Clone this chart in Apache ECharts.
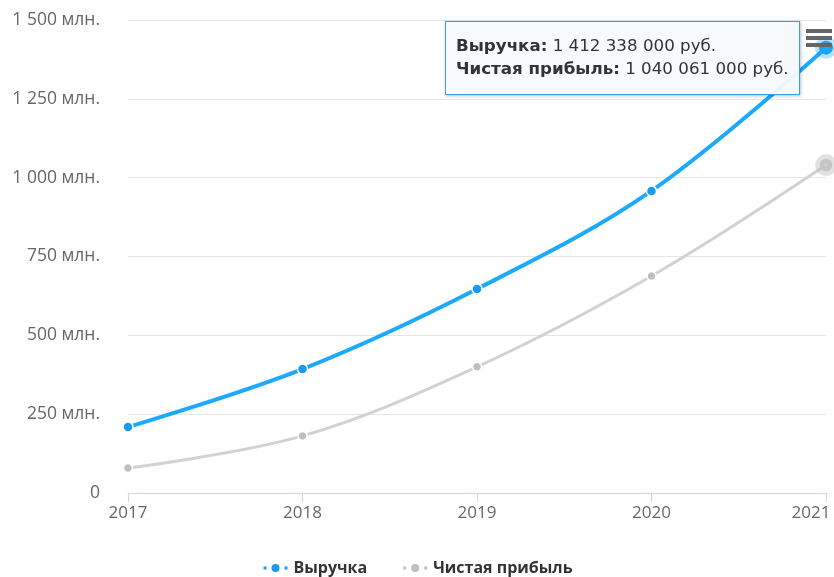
<!DOCTYPE html>
<html>
<head>
<meta charset="utf-8">
<script src="https://cdn.jsdelivr.net/npm/echarts@6/dist/echarts.min.js"></script>
<style>
html,body{margin:0;padding:0;background:#fff;}
#chart{width:834px;height:577px;}
</style>
</head>
<body>
<div id="chart"></div>
<script>
var years = ['2017', '2018', '2019', '2020', '2021'];
var revenue = [209000000, 393000000, 647000000, 958000000, 1412338000];
var profit = [79000000, 181000000, 400000000, 688000000, 1040061000];
var seriesNames = ['Выручка', 'Чистая прибыль'];
var yTicks = [0, 250000000, 500000000, 750000000, 1000000000, 1250000000, 1500000000];

function spaced(n) {
  return String(Math.round(n)).replace(/\B(?=(\d{3})+(?!\d))/g, ' ');
}

var chart = echarts.init(document.getElementById('chart'), null, {renderer: 'canvas'});
var font = '"Open Sans", "DejaVu Sans", sans-serif';
var legendIcon = 'path://M0 3.5h5v5h-5z M8 6a5 5 0 1 0 10 0a5 5 0 1 0 -10 0z M21 3.5h5v5h-5z';

var option = {
  animation: false,
  grid: {left: 128, right: 8, top: 20, bottom: 84, containLabel: false, outerBoundsMode: 'none'},
  xAxis: {
    type: 'category',
    data: years,
    boundaryGap: false,
    axisLine: {lineStyle: {color: '#ccd6eb', width: 1}},
    axisTick: {show: true, alignWithLabel: true, length: 9, lineStyle: {color: '#ccd6eb'}},
    axisLabel: {
      color: '#666', fontSize: 17, fontFamily: font, margin: 12, hideOverlap: false,
      formatter: function (v, i) { return i === years.length - 1 ? '{last|' + v + '}' : v; },
      rich: {last: {color: '#666', fontSize: 17, fontFamily: font, padding: [0, 30, 0, 0]}}
    },
    splitLine: {show: false}
  },
  yAxis: {
    type: 'value',
    min: yTicks[0],
    max: yTicks[yTicks.length - 1],
    interval: yTicks[1] - yTicks[0],
    axisLine: {show: false},
    axisTick: {show: false},
    splitLine: {lineStyle: {color: '#e6e6e6', width: 1}},
    axisLabel: {
      color: '#666', fontSize: 17.5, fontFamily: font, margin: 28,
      formatter: function (v) { return v === 0 ? '0' : spaced(v / 1e6) + ' млн.'; }
    }
  },
  legend: {
    top: 555,
    left: 'center',
    itemGap: 34,
    itemWidth: 26,
    itemHeight: 12,
    textStyle: {color: '#333', fontSize: 16, fontWeight: 'bold', fontFamily: font},
    data: [{name: seriesNames[0], icon: legendIcon}, {name: seriesNames[1], icon: legendIcon}]
  },
  tooltip: {
    trigger: 'axis',
    triggerOn: 'none',
    alwaysShowContent: true,
    position: [445, 21],
    axisPointer: {type: 'none'},
    backgroundColor: 'rgba(247,250,252,0.95)',
    borderColor: '#3a9ee6',
    borderWidth: 1,
    padding: [12, 10, 14, 10],
    extraCssText: 'box-shadow: 1px 1px 3px rgba(0,0,0,0.25); border-radius:0; line-height:23px;',
    textStyle: {fontFamily: '"DejaVu Sans", sans-serif', fontSize: 16.7, color: '#333'},
    formatter: function (params) {
      return params.map(function (p) {
        return '<b>' + p.seriesName + ':</b> ' + spaced(p.value) + ' руб.';
      }).join('<br/>');
    }
  },
  graphic: [
    {type: 'rect', right: 2, top: 29, shape: {width: 26, height: 4}, style: {fill: '#666'}, z: 100},
    {type: 'rect', right: 2, top: 36, shape: {width: 26, height: 4}, style: {fill: '#666'}, z: 100},
    {type: 'rect', right: 2, top: 43, shape: {width: 26, height: 4}, style: {fill: '#666'}, z: 100}
  ],
  series: [
    {
      name: seriesNames[0],
      type: 'line',
      data: revenue,
      smooth: 0.35,
      symbol: 'circle',
      symbolSize: 10,
      showAllSymbol: true,
      lineStyle: {color: '#1a9bf0', width: 4},
      itemStyle: {color: '#1a9bf0', borderColor: '#fff', borderWidth: 1.5},
      emphasis: {scale: 1.4, itemStyle: {borderColor: 'rgba(26,155,240,0.3)', borderWidth: 8}},
      z: 3
    },
    {
      name: seriesNames[1],
      type: 'line',
      data: profit,
      smooth: 0.35,
      symbol: 'circle',
      symbolSize: 9,
      showAllSymbol: true,
      lineStyle: {color: '#bfbfbf', width: 3},
      itemStyle: {color: '#bfbfbf', borderColor: '#fff', borderWidth: 1.5},
      emphasis: {scale: 1.4, itemStyle: {borderColor: 'rgba(180,180,180,0.4)', borderWidth: 9}},
      z: 2
    }
  ]
};
chart.setOption(option);
chart.dispatchAction({type: 'showTip', seriesIndex: 0, dataIndex: 4});
chart.dispatchAction({type: 'highlight', seriesIndex: [0, 1], dataIndex: 4});
</script>
</body>
</html>
